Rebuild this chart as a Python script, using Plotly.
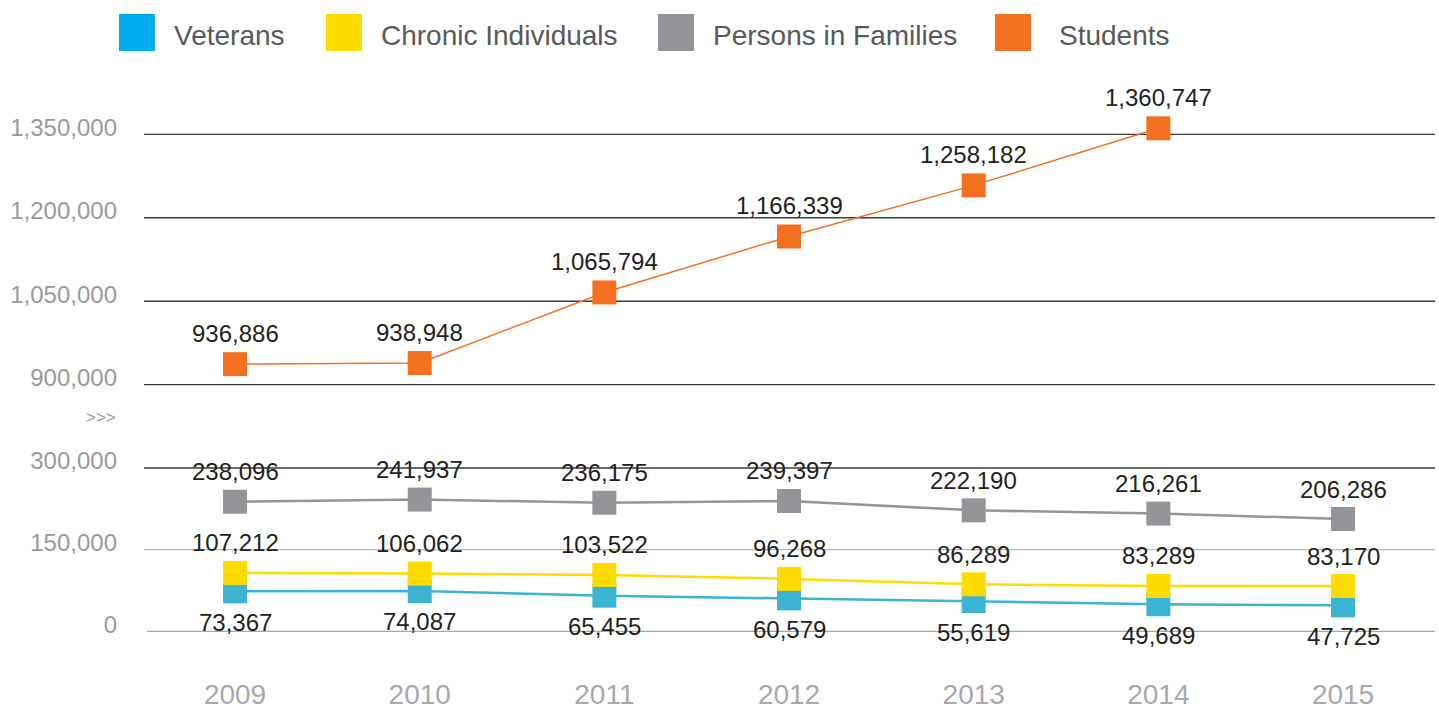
import plotly.graph_objects as go

# ---------------- data ----------------
years = [2009, 2010, 2011, 2012, 2013, 2014, 2015]
veterans = [73367, 74087, 65455, 60579, 55619, 49689, 47725]
chronic = [107212, 106062, 103522, 96268, 86289, 83289, 83170]
families = [238096, 241937, 236175, 239397, 222190, 216261, 206286]
student_years = [2009, 2010, 2011, 2012, 2013, 2014]
students = [936886, 938948, 1065794, 1166339, 1258182, 1360747]

lower_ticks = [0, 150000, 300000]
upper_ticks = [900000, 1050000, 1200000, 1350000]
series_names = ["Veterans", "Chronic Individuals", "Persons in Families", "Students"]

# ---------------- style ----------------
W, Hfig = 1439, 711
L, R = 144, 1435          # plot left/right px
T, B = 80, 650            # plot top/bottom px
S = 426                   # split between lower/upper panels (px)
PH = B - T
PW = R - L
FONT = "Liberation Sans, Arial, sans-serif"

c_vet, c_vet_leg = "#3BB4D4", "#00AEEF"
c_chr = "#FFDC00"
c_fam = "#939598"
c_stu = "#F37021"
legend_colors = [c_vet_leg, c_chr, c_fam, c_stu]

def py(px):  # pixel y -> paper y
    return (B - px) / PH

def pxx(px):  # pixel x -> paper x
    return (px - L) / PW

# lower axis mapping: 0 -> 631.3, 300000 -> 468
k1 = (631.3 - 468.0) / 300000
lo_range = [0 - (B - 631.3) / k1, 300000 + (468.0 - S) / k1]
# upper axis mapping: 900000 -> 384.7, 1350000 -> 134.3
k2 = (384.7 - 134.3) / 450000
up_range = [900000 - (S - 384.7) / k2, 1350000 + (134.3 - T) / k2]

fig = go.Figure()

def add_series(x, y, color, width, yaxis):
    fig.add_trace(go.Scatter(
        x=x, y=y, yaxis=yaxis, mode="lines+markers",
        line=dict(color=color, width=width),
        marker=dict(symbol="square", size=24, color=color, line=dict(width=0)),
        cliponaxis=False, showlegend=False, hoverinfo="x+y"))

add_series(years, veterans, c_vet, 2.5, "y")
add_series(years, chronic, c_chr, 2.5, "y")
add_series(years, families, c_fam, 2.5, "y")
add_series(student_years, students, c_stu, 1.5, "y2")

annotations = []
label_font = dict(family=FONT, size=24, color="#231F20")
for x, v in zip(years, veterans):
    annotations.append(dict(x=x, y=v, xref="x", yref="y", text=f"{v:,}",
                            showarrow=False, yshift=-31, font=label_font))
for x, v in zip(years, chronic):
    annotations.append(dict(x=x, y=v, xref="x", yref="y", text=f"{v:,}",
                            showarrow=False, yshift=30, font=label_font))
for x, v in zip(years, families):
    annotations.append(dict(x=x, y=v, xref="x", yref="y", text=f"{v:,}",
                            showarrow=False, yshift=30, font=label_font))
for x, v in zip(student_years, students):
    annotations.append(dict(x=x, y=v, xref="x", yref="y2", text=f"{v:,}",
                            showarrow=False, yshift=31, font=label_font))

# axis break marker
annotations.append(dict(x=pxx(118), y=py(417), xref="paper", yref="paper",
                        xanchor="right", yanchor="middle", text=">>>",
                        showarrow=False, font=dict(family=FONT, size=17, color="#9a9a9a")))

# grid lines
shapes = []
lower_grid_colors = ["#a8a8a8", "#b8b8b8", "#3a3a3a"]
for v, col in zip(lower_ticks, lower_grid_colors):
    shapes.append(dict(type="line", xref="paper", yref="y", x0=0 if v else pxx(147), x1=1,
                       y0=v, y1=v, line=dict(color=col, width=1.3), layer="below"))
for v in upper_ticks:
    shapes.append(dict(type="line", xref="paper", yref="y2", x0=0, x1=1,
                       y0=v, y1=v, line=dict(color="#3a3a3a", width=1.3), layer="below"))

# legend (manual, large squares)
leg_sq_x = [119, 326, 658, 995]
leg_tx_x = [172, 379, 711, 1057]
for name, col, sx, tx in zip(series_names, legend_colors, leg_sq_x, leg_tx_x):
    shapes.append(dict(type="rect", xref="paper", yref="paper",
                       x0=pxx(sx), x1=pxx(sx + 36), y0=py(51), y1=py(14),
                       fillcolor=col, line=dict(width=0)))
    annotations.append(dict(x=pxx(tx), y=py(36), xref="paper", yref="paper",
                            xanchor="left", yanchor="middle", text=name, showarrow=False,
                            font=dict(family=FONT, size=28, color="#58595B")))

fig.update_layout(
    width=W, height=Hfig,
    margin=dict(l=L, r=W - R, t=T, b=Hfig - B),
    paper_bgcolor="white", plot_bgcolor="white",
    font=dict(family=FONT),
    showlegend=False,
    xaxis=dict(range=[2008.507, 2015.498], tickvals=years, showgrid=False, zeroline=False,
               showline=False, ticks="", anchor="y", automargin=False,
               tickfont=dict(family=FONT, size=28, color="#a7a9ac"),
               ticklabelstandoff=25),
    yaxis=dict(domain=[0, py(S)], range=lo_range, tickvals=lower_ticks, tickformat=",d",
               showgrid=False, zeroline=False, showline=False, ticks="", automargin=False,
               tickfont=dict(family=FONT, size=24, color="#9a9a9a"),
               ticklabelshift=-7, ticklabelstandoff=26),
    yaxis2=dict(domain=[py(S), 1], range=up_range, tickvals=upper_ticks, tickformat=",d",
                anchor="x", showgrid=False, zeroline=False, showline=False, ticks="",
                automargin=False,
                tickfont=dict(family=FONT, size=24, color="#9a9a9a"),
                ticklabelshift=-7, ticklabelstandoff=26),
    shapes=shapes,
    annotations=annotations,
)

fig.write_html("out.html", config={"displayModeBar": False},
               post_script="document.body.style.margin='0px';document.body.style.overflow='hidden';")
